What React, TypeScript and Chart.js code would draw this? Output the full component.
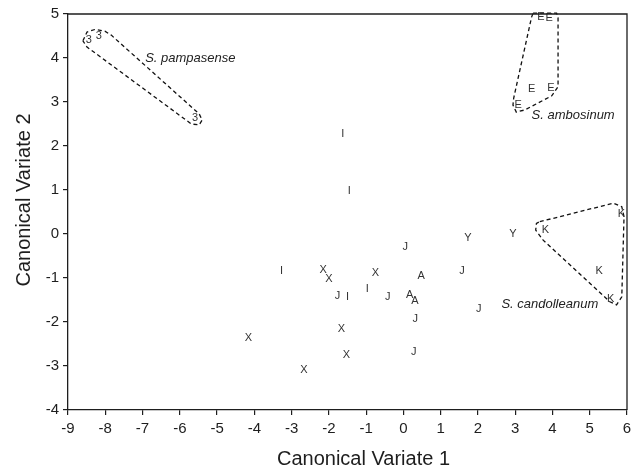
import React, { useEffect, useRef } from 'react';
import { Chart, registerables } from 'chart.js';

Chart.register(...registerables);

// Observations (canonical scores) with their group letter
const pointLabels = [
  '3', '3', '3',
  'E', 'E', 'E', 'E', 'E',
  'K', 'K', 'K', 'K',
  'Y', 'Y',
  'I', 'I', 'I', 'I', 'I',
  'J', 'J', 'J', 'J', 'J', 'J', 'J',
  'X', 'X', 'X', 'X', 'X', 'X', 'X',
  'A', 'A', 'A',
];
const pointX = [
  -8.44, -8.17, -5.59,
  3.69, 3.91, 3.44, 3.96, 3.08,
  3.81, 5.85, 5.25, 5.56,
  1.73, 2.94,
  -1.63, -1.45, -3.27, -1.50, -0.97,
  0.05, -1.77, -0.42, 0.32, 0.28, 1.57, 2.02,
  -2.15, -2.00, -0.75, -1.66, -4.16, -1.53, -2.67,
  0.48, 0.17, 0.31,
];
const pointY = [
  4.41, 4.50, 2.64,
  4.94, 4.90, 3.29, 3.33, 2.93,
  0.09, 0.45, -0.84, -1.47,
  -0.08, 0.0,
  2.27, 0.98, -0.84, -1.43, -1.25,
  -0.29, -1.41, -1.43, -1.94, -2.68, -0.84, -1.71,
  -0.82, -1.03, -0.88, -2.16, -2.37, -2.76, -3.09,
  -0.95, -1.39, -1.52,
];

// Species annotations
const speciesNames = ['S. pampasense', 'S. ambosinum', 'S. candolleanum'];
const speciesX = [-6.93, 3.44, 2.63];
const speciesY = [3.99, 2.70, -1.61];

// Dashed group outlines (data coordinates)
const hullPampasenseX = [-8.60, -8.49, -8.27, -8.01, -7.84, -5.48, -5.40, -5.48, -5.69, -8.49];
const hullPampasenseY = [4.39, 4.59, 4.65, 4.61, 4.52, 2.73, 2.59, 2.48, 2.50, 4.25];
const hullAmbosinumX = [3.48, 4.11, 4.15, 4.15, 3.98, 3.26, 3.03, 2.94, 2.96, 3.44];
const hullAmbosinumY = [5.02, 5.02, 4.91, 3.35, 3.14, 2.82, 2.77, 2.93, 3.09, 4.93];
const hullCandolleanumX = [3.66, 5.63, 5.86, 5.92, 5.86, 5.72, 5.54, 3.75, 3.55, 3.57];
const hullCandolleanumY = [0.28, 0.70, 0.62, 0.39, -1.43, -1.61, -1.54, -0.14, 0.09, 0.24];

// Axes
const xMin = -9, xMax = 6;
const yMin = -4, yMax = 5;
const xTitle = 'Canonical Variate 1';
const yTitle = 'Canonical Variate 2';

export default function App() {
  const ref = useRef<HTMLCanvasElement>(null);

  useEffect(() => {
    if (!ref.current) return;
    const FONT = '"Liberation Sans", Arial, Helvetica, sans-serif';
    const INK = '#1e1e1e';

    const closed = (xs: number[], ys: number[]) =>
      xs.map((x, i) => ({ x, y: ys[i] })).concat([{ x: xs[0], y: ys[0] }]);

    const hullStyle = {
      showLine: true,
      fill: false,
      pointRadius: 0,
      borderColor: '#111',
      borderWidth: 1.3,
      borderDash: [4, 3],
      tension: 0,
      clip: false as any,
    };

    const annot = {
      id: 'annot',
      afterDatasetsDraw(chart: any) {
        const ctx = chart.ctx;
        const meta = chart.getDatasetMeta(0);
        const xs = chart.scales.x;
        const ys = chart.scales.y;
        ctx.save();
        ctx.fillStyle = '#333';
        ctx.font = `11px ${FONT}`;
        ctx.textAlign = 'center';
        ctx.textBaseline = 'middle';
        meta.data.forEach((el: any, i: number) => {
          ctx.fillText(pointLabels[i], el.x, el.y);
        });
        ctx.fillStyle = '#222';
        ctx.font = `italic 13px ${FONT}`;
        ctx.textAlign = 'left';
        speciesNames.forEach((n, i) => {
          ctx.fillText(n, xs.getPixelForValue(speciesX[i]), ys.getPixelForValue(speciesY[i]));
        });
        const a = chart.chartArea;
        ctx.strokeStyle = INK;
        ctx.lineWidth = 1.3;
        ctx.setLineDash([]);
        ctx.beginPath();
        ctx.moveTo(a.left, a.top);
        ctx.lineTo(a.right, a.top);
        ctx.lineTo(a.right, a.bottom);
        ctx.stroke();

        // axis titles
        ctx.fillStyle = INK;
        ctx.font = `20px ${FONT}`;
        ctx.textAlign = 'center';
        ctx.textBaseline = 'middle';
        ctx.fillText(xTitle, (a.left + a.right) / 2 + 16, 459);
        ctx.translate(24, (a.top + a.bottom) / 2 - 12);
        ctx.rotate(-Math.PI / 2);
        ctx.fillText(yTitle, 0, 0);
        ctx.restore();
      },
    };

    const chart = new Chart(ref.current, {
      type: 'scatter',
      data: {
        datasets: [
          {
            data: pointX.map((x, i) => ({ x, y: pointY[i] })),
            pointRadius: 0,
            pointHoverRadius: 0,
            showLine: false,
          },
          { data: closed(hullPampasenseX, hullPampasenseY), ...hullStyle },
          { data: closed(hullAmbosinumX, hullAmbosinumY), ...hullStyle },
          { data: closed(hullCandolleanumX, hullCandolleanumY), ...hullStyle },
        ] as any,
      },
      options: {
        animation: false,
        responsive: true,
        maintainAspectRatio: false,
        layout: { padding: { top: 14, right: 11, left: 0, bottom: 0 } },
        plugins: { legend: { display: false }, tooltip: { enabled: false } },
        scales: {
          x: {
            type: 'linear',
            min: xMin,
            max: xMax,
            afterFit: (s: any) => { s.height = 61; },
            ticks: {
              stepSize: 1,
              color: INK,
              font: { family: FONT, size: 15 },
              padding: 5,
              maxRotation: 0,
            },
            grid: {
              drawOnChartArea: false,
              drawTicks: true,
              tickLength: 5,
              color: INK,
              lineWidth: 1.2,
            },
            border: { display: true, color: INK, width: 1.3 },
            title: { display: false, text: xTitle },
          },
          y: {
            type: 'linear',
            min: yMin,
            max: yMax,
            afterFit: (s: any) => { s.width = 68; },
            ticks: {
              stepSize: 1,
              color: INK,
              font: { family: FONT, size: 15 },
              padding: 4,
            },
            grid: {
              drawOnChartArea: false,
              drawTicks: true,
              tickLength: 5,
              color: INK,
              lineWidth: 1.2,
            },
            border: { display: true, color: INK, width: 1.3 },
            title: { display: false, text: yTitle },
          },
        },
      },
      plugins: [annot],
    });

    return () => chart.destroy();
  }, []);

  return (
    <div style={{ position: 'fixed', left: 0, top: 0, width: 638, height: 471, background: '#fff' }}>
      <canvas ref={ref} />
    </div>
  );
}
